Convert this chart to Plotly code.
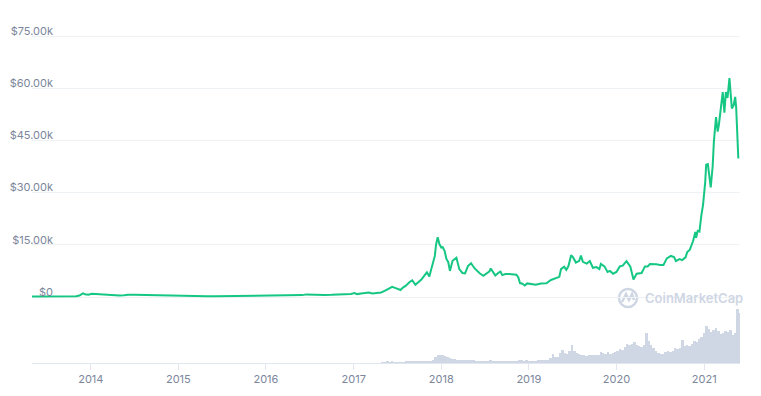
import pandas as pd
import plotly.graph_objects as go

# ---------------- data ----------------
price_dates = [
    "2013-05-01", "2013-06-01", "2013-07-01", "2013-08-01", "2013-09-01", "2013-10-01",
    "2013-11-01", "2013-11-15", "2013-11-29", "2013-12-08", "2013-12-22", "2014-01-05",
    "2014-01-25", "2014-02-15", "2014-03-01", "2014-03-20", "2014-04-10", "2014-05-01",
    "2014-05-20", "2014-06-05", "2014-07-01", "2014-08-01", "2014-08-20", "2014-09-10",
    "2014-10-01", "2014-10-20", "2014-11-10", "2014-12-01", "2014-12-20", "2015-01-10",
    "2015-01-25", "2015-02-15", "2015-03-10", "2015-04-01", "2015-05-01", "2015-06-01",
    "2015-07-01", "2015-07-20", "2015-08-20", "2015-09-15", "2015-10-10", "2015-11-04",
    "2015-11-20", "2015-12-15", "2016-01-10", "2016-01-25", "2016-02-20", "2016-03-15",
    "2016-04-15", "2016-05-15", "2016-06-01", "2016-06-18", "2016-07-05", "2016-08-01",
    "2016-09-01", "2016-10-01", "2016-11-01", "2016-12-01", "2016-12-20", "2017-01-04",
    "2017-01-15", "2017-02-01", "2017-02-20", "2017-03-05", "2017-03-20", "2017-04-05",
    "2017-04-25", "2017-05-10", "2017-05-25", "2017-06-10", "2017-06-25", "2017-07-15",
    "2017-07-25", "2017-08-05", "2017-08-22", "2017-09-02", "2017-09-15", "2017-09-28",
    "2017-10-10", "2017-10-20", "2017-11-02", "2017-11-12", "2017-11-20", "2017-11-28",
    "2017-12-05", "2017-12-10", "2017-12-17", "2017-12-24", "2018-01-01", "2018-01-07",
    "2018-01-15", "2018-01-22", "2018-01-30", "2018-02-06", "2018-02-17", "2018-03-05",
    "2018-03-17", "2018-03-30", "2018-04-10", "2018-04-22", "2018-05-05", "2018-05-20",
    "2018-05-30", "2018-06-10", "2018-06-25", "2018-07-05", "2018-07-21", "2018-07-26",
    "2018-08-05", "2018-08-14", "2018-08-28", "2018-09-05", "2018-09-12", "2018-09-25",
    "2018-10-10", "2018-10-25", "2018-11-10", "2018-11-18", "2018-11-25", "2018-12-05",
    "2018-12-15", "2018-12-25", "2019-01-10", "2019-01-30", "2019-02-20", "2019-03-15",
    "2019-04-03", "2019-04-20", "2019-05-08", "2019-05-15", "2019-05-28", "2019-06-06",
    "2019-06-15", "2019-06-26", "2019-07-05", "2019-07-16", "2019-07-30", "2019-08-06",
    "2019-08-14", "2019-08-30", "2019-09-12", "2019-09-25", "2019-10-10", "2019-10-22",
    "2019-10-28", "2019-11-12", "2019-11-25", "2019-12-05", "2019-12-18", "2020-01-01",
    "2020-01-15", "2020-01-27", "2020-02-12", "2020-02-28", "2020-03-12", "2020-03-25",
    "2020-04-15", "2020-04-29", "2020-05-10", "2020-05-20", "2020-06-01", "2020-06-15",
    "2020-07-01", "2020-07-15", "2020-07-29", "2020-08-15", "2020-08-28", "2020-09-05",
    "2020-09-20", "2020-10-01", "2020-10-15", "2020-10-22", "2020-11-02", "2020-11-15",
    "2020-11-25", "2020-11-28", "2020-12-05", "2020-12-12", "2020-12-20", "2020-12-27",
    "2021-01-05", "2021-01-09", "2021-01-16", "2021-01-23", "2021-01-28", "2021-02-05",
    "2021-02-10", "2021-02-19", "2021-02-26", "2021-03-03", "2021-03-12", "2021-03-19",
    "2021-03-26", "2021-04-01", "2021-04-08", "2021-04-16", "2021-04-26", "2021-05-03",
    "2021-05-10", "2021-05-14", "2021-05-23",
]
price_usd = [
    135, 122, 88, 105, 140, 125,
    205, 420, 1050, 800, 650, 920,
    820, 650, 560, 580, 420, 450,
    500, 650, 640, 590, 520, 480,
    380, 390, 360, 380, 320, 280,
    250, 240, 290, 245, 235, 225,
    260, 280, 235, 230, 245, 400,
    325, 450, 450, 390, 440, 415,
    430, 455, 540, 750, 670, 610,
    575, 615, 730, 755, 880, 1130,
    830, 985, 1060, 1270, 1000, 1150,
    1300, 1750, 2400, 2900, 2550, 2000,
    2700, 3200, 4300, 4800, 3500, 4200,
    5000, 5900, 7100, 5900, 8100, 10000,
    11800, 15000, 17200, 15200, 14200, 14300,
    13200, 11000, 10000, 7500, 10400, 11300,
    8000, 6900, 6800, 8900, 9700, 8200,
    7400, 6800, 6100, 6600, 7400, 8200,
    7000, 6200, 7000, 7300, 6300, 6600,
    6600, 6450, 6400, 5600, 4000, 3800,
    3300, 3900, 3700, 3500, 3900, 3950,
    4900, 5300, 5800, 8000, 8700, 7800,
    8900, 12000, 11300, 9900, 10400, 11900,
    10100, 9600, 10300, 8400, 8600, 8000,
    9500, 8800, 7200, 7500, 6700, 7200,
    8800, 9000, 10300, 8700, 5000, 6700,
    6900, 8800, 8800, 9500, 9500, 9400,
    9200, 9200, 11100, 11800, 11500, 10300,
    10900, 10600, 11400, 12900, 13600, 16000,
    18700, 17000, 19000, 18800, 23500, 26500,
    33000, 38000, 38200, 33000, 31500, 37500,
    44500, 51700, 47500, 49500, 55000, 58900,
    53000, 58900, 57200, 62900, 54200, 55000,
    57500, 54500, 39800,
]

# volume (billions USD), one bar every 10 days starting 2017-05-01
volume_start = "2017-05-01"
volume_bn = [
    1.5, 1.6, 2.2, 2.0, 2.2, 2.0, 1.6, 1.5, 1.6, 1.8,
    2.4, 2.6, 2.8, 2.6, 2.2, 2.4, 2.6, 3.0, 3.2, 4.0,
    5.0, 6.5, 12, 16, 16, 16, 15, 12, 10, 8,
    7.5, 7, 6.5, 6, 5.5, 6, 7, 6.5, 5.5, 5,
    5, 4.5, 4.5, 4.5, 5, 6, 5, 4.5, 4.5, 4.5,
    4.5, 4.5, 4, 4, 4, 4.5, 5, 6, 5.5, 5,
    5.5, 5, 5, 5, 5, 5.5, 6.5, 6, 6.5, 7,
    10, 18, 12, 13, 20, 26, 20, 18, 24, 36,
    24, 20, 18, 17, 16, 15, 16, 16, 17, 16,
    17, 22, 20, 19, 22, 19, 20, 22, 24, 28,
    26, 32, 38, 36, 38, 42, 36, 34, 32, 36,
    60, 44, 36, 30, 24, 20, 18, 19, 22, 24,
    22, 24, 30, 28, 30, 46, 34, 36, 34, 38,
    44, 42, 48, 52, 60, 74, 68, 62, 66, 70,
    64, 58, 60, 64, 62, 66, 56, 60, 108, 100,
]
volume_dates = pd.date_range(volume_start, periods=len(volume_bn), freq="10D")

y_tick_values = [0, 15000, 30000, 45000, 60000, 75000]
y_tick_labels = ["$0", "$15.00k", "$30.00k", "$45.00k", "$60.00k", "$75.00k"]
x_tick_labels = ["2014", "2015", "2016", "2017", "2018", "2019", "2020", "2021"]

# ---------------- figure ----------------
OFF = 8                      # default page body margin
W, H = 761 - OFF, 396 - OFF
ML, MR, MT, MB = 32 - OFF, 21, 20 - OFF, 33
PW, PH = W - ML - MR, H - MT - MB


def px(x, y):
    """page pixel -> paper coords"""
    return (x - OFF - ML) / PW, (H - MB - (y - OFF)) / PH


fig = go.Figure()

fig.add_trace(go.Bar(
    x=volume_dates, y=volume_bn, yaxis="y2",
    marker=dict(color="#cfd6e4", line=dict(width=0)),
    hoverinfo="skip",
))

fig.add_trace(go.Scatter(
    x=pd.to_datetime(price_dates), y=price_usd, mode="lines",
    line=dict(color="#16c784", width=2),
    hoverinfo="skip",
))

# watermark
gx0, gy0 = px(619, 307)
gx1, gy1 = px(637, 289)
fig.add_shape(type="circle", xref="paper", yref="paper",
              x0=gx0, y0=gy0, x1=gx1, y1=gy1,
              line=dict(color="#cfd6e4", width=2.5), layer="below")
pts = [px(622, 302), px(626, 294), px(629, 300), px(632, 294), px(634, 300)]
path = "M " + " L ".join(f"{a},{b}" for a, b in pts)
fig.add_shape(type="path", xref="paper", yref="paper", path=path,
              line=dict(color="#cfd6e4", width=2.5), layer="below")
tx, ty = px(643, 298)
fig.add_annotation(text="CoinMarketCap", xref="paper", yref="paper",
                   x=tx, y=ty, xanchor="left", yanchor="middle", showarrow=False,
                   font=dict(family="Inter", size=13, color="#cfd6e4", weight=600))

fig.update_layout(
    width=W, height=H,
    margin=dict(l=ML, r=MR, t=MT, b=MB, autoexpand=False),
    paper_bgcolor="white", plot_bgcolor="white",
    showlegend=False, bargap=0, hovermode=False,
    font=dict(family="Inter", size=11, color="#7c869b"),
    xaxis=dict(
        type="date",
        range=["2013-05-01", "2021-05-30"],
        tickvals=pd.to_datetime([f"{y}-01-01" for y in x_tick_labels]),
        ticktext=x_tick_labels,
        showgrid=False, zeroline=False,
        showline=True, linecolor="#e2e6ef", linewidth=1,
        ticks="outside", ticklen=6, tickcolor="#e2e6ef",
        tickfont=dict(size=11, color="#7c869b"),
        fixedrange=True, automargin=False,
    ),
    yaxis=dict(
        range=[-18966, 79598],
        tickvals=y_tick_values, ticktext=y_tick_labels,
        showgrid=True, gridcolor="#eff2f5", gridwidth=1,
        zeroline=False, showline=False, ticks="",
        anchor="free", position=(55 - 32) / PW,
        ticklabelshift=-5, ticklabelstandoff=2,
        tickfont=dict(size=11, color="#7c869b"),
        fixedrange=True, automargin=False,
    ),
    yaxis2=dict(
        overlaying="y", range=[0, 108 * PH / 54],
        visible=False, fixedrange=True,
    ),
)

fig.write_html("out.html")
